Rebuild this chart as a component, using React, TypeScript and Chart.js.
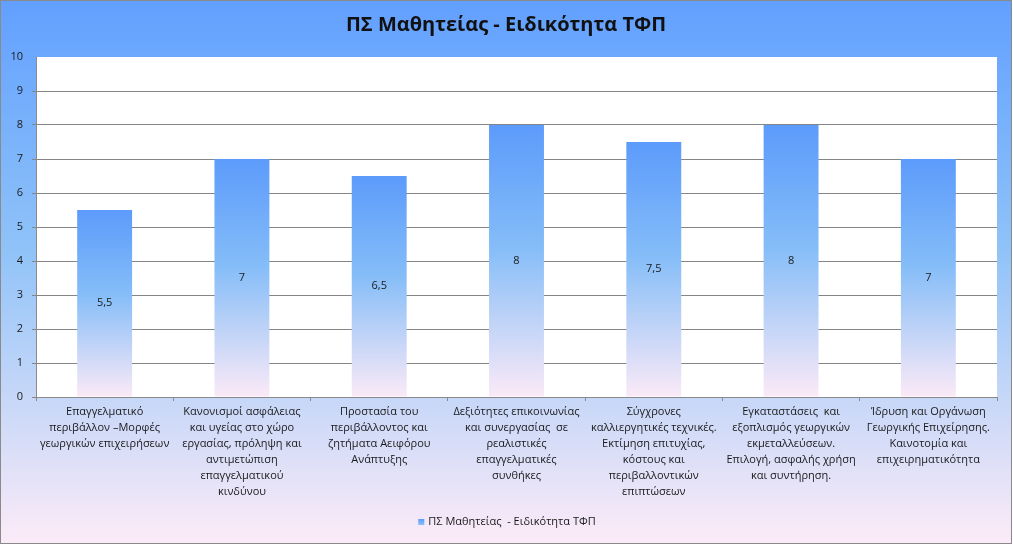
import React, { useEffect, useRef } from "react";
import { Chart, registerables } from "chart.js";

Chart.register(...registerables);

const TITLE = "ΠΣ Μαθητείας - Ειδικότητα ΤΦΠ";
const SERIES_NAME = "ΠΣ Μαθητείας  - Ειδικότητα ΤΦΠ";

const categories: string[][] = [
  ["Επαγγελματικό", "περιβάλλον –Μορφές", "γεωργικών επιχειρήσεων"],
  ["Κανονισμοί ασφάλειας", "και υγείας στο χώρο", "εργασίας, πρόληψη και", "αντιμετώπιση", "επαγγελματικού", "κινδύνου"],
  ["Προστασία του", "περιβάλλοντος και", "ζητήματα Αειφόρου", "Ανάπτυξης"],
  ["Δεξιότητες επικοινωνίας", "και συνεργασίας  σε", "ρεαλιστικές", "επαγγελματικές", "συνθήκες"],
  ["Σύγχρονες", "καλλιεργητικές τεχνικές.", "Εκτίμηση επιτυχίας,", "κόστους και", "περιβαλλοντικών", "επιπτώσεων"],
  ["Εγκαταστάσεις  και", "εξοπλισμός γεωργικών", "εκμεταλλεύσεων.", "Επιλογή, ασφαλής χρήση", "και συντήρηση."],
  ["Ίδρυση και Οργάνωση", "Γεωργικής Επιχείρησης.", "Καινοτομία και", "επιχειρηματικότητα"],
];

const values: number[] = [5.5, 7, 6.5, 8, 7.5, 8, 7];

const yMin = 0;
const yMax = 10;
const yStep = 1;

const FONT = "'Open Sans', 'Noto Sans', sans-serif";
const TEXT_COLOR = "#1a1a1a";

function fillGradient(ctx: CanvasRenderingContext2D, y0: number, y1: number) {
  const g = ctx.createLinearGradient(0, y0, 0, y1);
  g.addColorStop(0, "#5c9bfb");
  g.addColorStop(0.45, "#85bdf8");
  g.addColorStop(1, "#fbeaf7");
  return g;
}

const backgroundPlugin = {
  id: "bgPlugin",
  beforeDraw(chart: any) {
    const { ctx, width, height, chartArea } = chart;
    ctx.save();
    ctx.fillStyle = "#ffffff";
    ctx.fillRect(0, 0, width, height);
    const g = ctx.createLinearGradient(0, 1, 0, height - 3);
    g.addColorStop(0, "#62a0ff");
    g.addColorStop(0.45, "#8ec2f8");
    g.addColorStop(1, "#fcebf8");
    ctx.fillStyle = g;
    ctx.fillRect(1, 1, width - 3, height - 4);
    ctx.strokeStyle = "#8a8a8a";
    ctx.lineWidth = 1;
    ctx.strokeRect(0.5, 0.5, width - 2, height - 3);
    if (chartArea) {
      ctx.fillStyle = "#ffffff";
      ctx.fillRect(chartArea.left, chartArea.top, chartArea.right - chartArea.left, chartArea.bottom - chartArea.top);
    }
    // title
    ctx.fillStyle = "#111111";
    ctx.font = `bold 20px ${FONT}`;
    ctx.textAlign = "center";
    ctx.textBaseline = "middle";
    ctx.fillText(TITLE, 506, 25);
    // legend
    ctx.font = `11px ${FONT}`;
    const tw = ctx.measureText(SERIES_NAME).width;
    const box = 6;
    const gap = 4;
    const total = box + gap + tw;
    const lx = 507 - total / 2;
    const ly = 522;
    ctx.fillStyle = fillGradient(ctx, ly - box / 2, ly + box / 2 + 6);
    ctx.fillRect(lx, ly - box / 2, box, box);
    ctx.fillStyle = TEXT_COLOR;
    ctx.textAlign = "left";
    ctx.fillText(SERIES_NAME, lx + box + gap, ly);
    ctx.restore();
  },
};

const labelPlugin = {
  id: "valueLabels",
  afterDatasetsDraw(chart: any) {
    const { ctx } = chart;
    const meta = chart.getDatasetMeta(0);
    ctx.save();
    ctx.font = `11px ${FONT}`;
    ctx.fillStyle = TEXT_COLOR;
    ctx.textAlign = "center";
    ctx.textBaseline = "middle";
    meta.data.forEach((el: any, i: number) => {
      const v = chart.data.datasets[0].data[i] as number;
      const txt = String(v).replace(".", ",");
      ctx.fillText(txt, el.x, (el.y + el.base) / 2);
    });
    ctx.restore();
  },
};

export default function App() {
  const ref = useRef<HTMLCanvasElement>(null);
  useEffect(() => {
    if (!ref.current) return;
    const chart = new Chart(ref.current, {
      type: "bar",
      data: {
        labels: categories,
        datasets: [
          {
            label: SERIES_NAME,
            data: values,
            backgroundColor: (c: any) => {
              const ch = c.chart;
              const sy = ch.scales && ch.scales.y;
              if (!ch.chartArea || !sy || typeof c.raw !== "number") return "#7ab3f8";
              const top = sy.getPixelForValue(c.raw);
              const base = sy.getPixelForValue(0);
              return fillGradient(ch.ctx, top, base);
            },
            borderWidth: 0,
            barPercentage: 0.4,
            categoryPercentage: 1,
          },
        ],
      },
      options: {
        responsive: false,
        animation: false,
        devicePixelRatio: 1,
        layout: { padding: { left: 0, right: 16, top: 57, bottom: 0 } },
        plugins: {
          legend: { display: false },
          title: { display: false },
          tooltip: { enabled: false },
        },
        scales: {
          x: {
            grid: {
              display: true,
              offset: true,
              drawOnChartArea: false,
              drawTicks: true,
              tickLength: 4,
              color: "#8a8a8a",
            },
            border: { display: true, color: "#8a8a8a" },
            ticks: {
              autoSkip: false,
              maxRotation: 0,
              minRotation: 0,
              padding: 3,
              color: TEXT_COLOR,
              font: { family: FONT, size: 11, lineHeight: 16 / 11 },
            },
            afterFit: (s: any) => {
              s.height = 546 - 397;
            },
          },
          y: {
            min: yMin,
            max: yMax,
            grid: {
              color: (c: any) => (c.tick && c.tick.value === yMax ? "rgba(0,0,0,0)" : "#858585"),
              tickLength: 4,
            },
            border: { display: true, color: "#8a8a8a" },
            ticks: {
              stepSize: yStep,
              padding: 9,
              color: TEXT_COLOR,
              font: { family: FONT, size: 11 },
            },
            afterFit: (s: any) => {
              s.width = 36;
            },
          },
        },
      },
      plugins: [backgroundPlugin, labelPlugin],
    } as any);
    return () => chart.destroy();
  }, []);
  return (
    <div style={{ position: "absolute", left: 0, top: 0, width: 1013, height: 546 }}>
      <canvas ref={ref} width={1013} height={546} style={{ display: "block" }} />
    </div>
  );
}
